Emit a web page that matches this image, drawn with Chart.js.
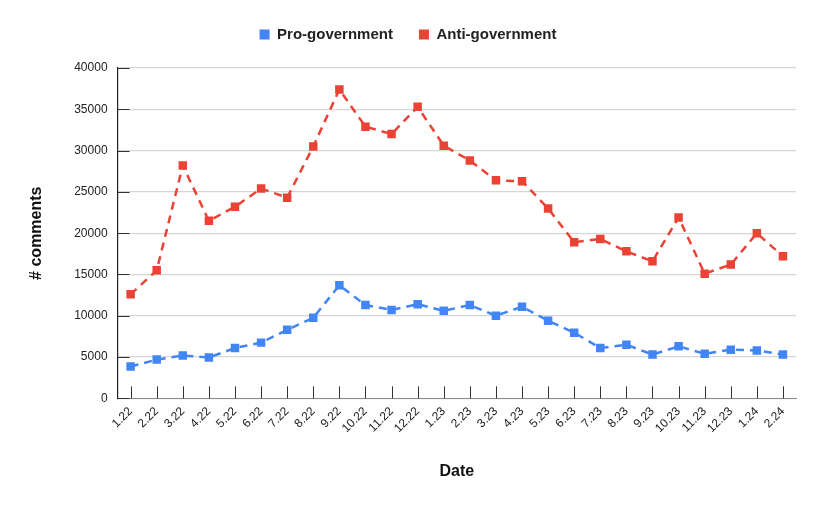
<!DOCTYPE html>
<html>
<head>
<meta charset="utf-8">
<script src="https://cdn.jsdelivr.net/npm/chart.js@4"></script>
<style>
  html, body { margin: 0; padding: 0; background: #fff; }
  #wrap { width: 822px; height: 508px; }
</style>
</head>
<body>
<div id="wrap"><canvas id="chart" width="822" height="508"></canvas></div>
<script>
// Month labels (month.year)
const dates = ['1.22', '2.22', '3.22', '4.22', '5.22', '6.22', '7.22', '8.22', '9.22', '10.22', '11.22', '12.22',
    '1.23', '2.23', '3.23', '4.23', '5.23', '6.23', '7.23', '8.23', '9.23', '10.23', '11.23', '12.23',
    '1.24', '2.24'];

const proGovernment = [3850, 4700, 5200, 4950, 6100, 6750, 8300, 9750, 13700, 11300, 10700, 11400,
    10600, 11300, 10000, 11100, 9400, 7950, 6100, 6500, 5300, 6300, 5400, 5900, 5800, 5300];

const antiGovernment = [12600, 15500, 28200, 21500, 23200, 25400, 24300, 30500, 37400, 32900, 32000, 35300,
    30600, 28800, 26400, 26300, 23000, 18900, 19300, 17800, 16600, 21900, 15100, 16200, 20000, 17200];

const yTicks = [0, 5000, 10000, 15000, 20000, 25000, 30000, 35000, 40000];

const BLUE = '#4285F4';
const RED = '#EA4335';

Chart.defaults.font.family = '"Liberation Sans", Arial, sans-serif';
Chart.defaults.color = '#222';

// inward tick marks like the original
const innerTicks = {
    id: 'innerTicks',
    beforeDatasetsDraw(chart) {
        const { ctx, scales: { x, y } } = chart;
        ctx.save();
        ctx.strokeStyle = '#333';
        ctx.lineWidth = 1;
        ctx.beginPath();
        x.ticks.forEach((t, i) => {
            const px = Math.round(x.getPixelForTick(i)) + 0.5;
            ctx.moveTo(px, y.bottom);
            ctx.lineTo(px, y.bottom - 12);
        });
        y.ticks.forEach((t, i) => {
            const py = Math.round(y.getPixelForTick(i)) + 0.5;
            ctx.moveTo(x.left, py);
            ctx.lineTo(x.left + 12, py);
        });
        ctx.stroke();
        ctx.restore();
    }
};

// extra room under the legend
const legendGap = {
    id: 'legendGap',
    beforeInit(chart) {
        const fit = chart.legend.fit;
        chart.legend.fit = function () {
            fit.call(this);
            this.height += 16;
        };
    }
};

const makeSet = (label, data, color) => ({
    label,
    data,
    borderColor: color,
    backgroundColor: color,
    borderWidth: 2.5,
    borderDash: [8, 6],
    pointStyle: 'rect',
    pointRadius: 6,
    pointHoverRadius: 6,
    pointBorderWidth: 0,
    tension: 0,
});

new Chart(document.getElementById('chart'), {
    type: 'line',
    data: {
        labels: dates,
        datasets: [
            makeSet('Pro-government', proGovernment, BLUE),
            makeSet('Anti-government', antiGovernment, RED),
        ],
    },
    options: {
        responsive: false,
        animation: false,
        layout: { padding: { left: 20, right: 26, top: 1, bottom: 27 } },
        scales: {
            x: {
                offset: true,
                grid: { display: false, drawTicks: false },
                border: { color: '#888', width: 1 },
                ticks: {
                    maxRotation: 45,
                    minRotation: 45,
                    autoSkip: false,
                    padding: 6,
                    font: { size: 12 },
                    color: '#222',
                },
                title: {
                    display: true,
                    text: 'Date',
                    font: { size: 16, weight: 'bold' },
                    color: '#111',
                    padding: { top: 20, bottom: 0 },
                },
            },
            y: {
                min: 0,
                max: 40000,
                afterBuildTicks: (scale) => {
                    scale.ticks = yTicks.map(v => ({ value: v }));
                },
                grid: { color: '#d6d6d6', lineWidth: 1.2, drawTicks: false },
                border: { color: '#222', width: 1.2 },
                ticks: {
                    padding: 10,
                    font: { size: 12 },
                    color: '#222',
                    callback: (v) => String(v),
                },
                title: {
                    display: true,
                    text: '# comments',
                    font: { size: 16, weight: 'bold' },
                    color: '#111',
                    padding: { top: 7, bottom: 18 },
                },
            },
        },
        plugins: {
            legend: {
                position: 'top',
                labels: {
                    usePointStyle: true,
                    pointStyle: 'rect',
                    boxWidth: 10,
                    boxHeight: 10,
                    padding: 26,
                    font: { size: 15, weight: 'bold' },
                    color: '#222',
                    generateLabels: (chart) =>
                        Chart.defaults.plugins.legend.labels.generateLabels(chart)
                            .map(l => ({ ...l, lineWidth: 0, lineDash: [], pointStyle: 'rect' })),
                },
            },
            tooltip: { enabled: false },
        },
    },
    plugins: [innerTicks, legendGap],
});
</script>
</body>
</html>
